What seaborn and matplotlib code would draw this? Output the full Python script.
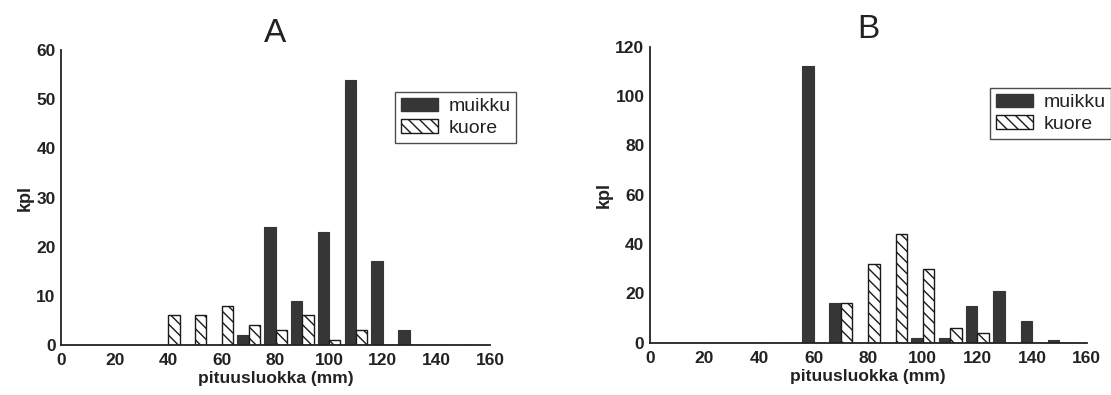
import numpy as np
import pandas as pd
import matplotlib
matplotlib.use("Agg")
import matplotlib.pyplot as plt
import seaborn as sns
from matplotlib.patches import Patch
from matplotlib.ticker import MultipleLocator

# Length classes (mm)
classes = [40, 50, 60, 70, 80, 90, 100, 110, 120, 130, 140, 150]

# Catch A (counts per length class)
muikku_a = [0, 0, 0, 2, 24, 9, 23, 54, 17, 3, 0, 0]
kuore_a = [6, 6, 8, 4, 3, 6, 1, 3, 0, 0, 0, 0]

# Catch B (counts per length class)
muikku_b = [0, 0, 112, 16, 0, 0, 2, 2, 15, 21, 9, 1]
kuore_b = [0, 0, 0, 16, 32, 44, 30, 6, 4, 0, 0, 0]

species = ["muikku", "kuore"]
panel_titles = ["A", "B"]
x_label = "pituusluokka (mm)"
y_label = "kpl"
y_limits = [60, 120]
y_major = [10, 20]
x_ticks = [0, 20, 40, 60, 80, 100, 120, 140, 160]

DARK = "#363636"
INK = "#222222"

sns.set_theme(style="white")
plt.rcParams["font.family"] = ["Liberation Sans", "DejaVu Sans"]
plt.rcParams["hatch.linewidth"] = 1.0


def long_table(muikku, kuore):
    return pd.DataFrame({
        "luokka": classes * 2,
        "kpl": list(muikku) + list(kuore),
        "laji": [species[0]] * len(classes) + [species[1]] * len(classes),
    })


fig = plt.figure(figsize=(11.11, 3.95), dpi=100)
ax_a = fig.add_axes([0.055, 0.127, 0.386, 0.746])
ax_b = fig.add_axes([0.585, 0.132, 0.393, 0.750])

tables = [long_table(muikku_a, kuore_a), long_table(muikku_b, kuore_b)]
legend_anchor = [(395 / 1111, 1 - 92 / 395), (990 / 1111, 1 - 88 / 395)]

for ax, df, title, ymax, ystep, anchor in zip(
        [ax_a, ax_b], tables, panel_titles, y_limits, y_major, legend_anchor):
    sns.barplot(data=df, x="luokka", y="kpl", hue="laji", hue_order=species,
                native_scale=True, width=0.84, dodge=True,
                palette={species[0]: DARK, species[1]: "white"},
                saturation=1, legend=False, ax=ax)
    # solid dark bars, hatched open bars
    for patch in ax.containers[0]:
        patch.set_facecolor(DARK)
        patch.set_edgecolor(DARK)
        patch.set_linewidth(0.8)
    for patch in ax.containers[1]:
        patch.set_facecolor("white")
        patch.set_edgecolor("#1a1a1a")
        patch.set_hatch("\\\\\\")
        patch.set_linewidth(1.0)

    ax.set_xlim(0, 160)
    ax.set_ylim(0, ymax)
    ax.set_xticks(x_ticks)
    ax.xaxis.set_minor_locator(MultipleLocator(10))
    ax.yaxis.set_major_locator(MultipleLocator(ystep))
    ax.yaxis.set_minor_locator(MultipleLocator(ystep / 2))
    ax.tick_params(axis="both", which="both", direction="in", colors=INK,
                   labelsize=12.5, width=1.0)
    ax.tick_params(axis="x", which="major", pad=6)
    ax.tick_params(axis="y", which="major", pad=4)
    ax.tick_params(which="major", length=4)
    ax.tick_params(which="minor", length=2)
    for lbl in ax.get_xticklabels() + ax.get_yticklabels():
        lbl.set_fontweight("bold")
        lbl.set_color(INK)
    for side in ["top", "right"]:
        ax.spines[side].set_visible(False)
    for side in ["left", "bottom"]:
        ax.spines[side].set_color(INK)
        ax.spines[side].set_linewidth(1.3)

    ax.set_xlabel(x_label, fontsize=12.5, fontweight="bold", color=INK,
                  labelpad=2)
    ax.set_ylabel(y_label, fontsize=13, fontweight="bold", color=INK,
                  labelpad=2)
    ax.set_title(title, fontsize=24, color=INK, pad=6)

    handles = [Patch(facecolor=DARK, edgecolor=DARK, label=species[0]),
               Patch(facecolor="white", edgecolor="#1a1a1a", hatch="\\\\\\",
                     label=species[1])]
    leg = fig.legend(handles=handles, loc="upper left", bbox_to_anchor=anchor,
                     fontsize=14, frameon=True, fancybox=False,
                     handlelength=1.9, handleheight=0.7, handletextpad=0.55,
                     borderpad=0.3, labelspacing=0.2, borderaxespad=0)
    leg.get_frame().set_edgecolor(INK)
    leg.get_frame().set_linewidth(1.0)
    for t in leg.get_texts():
        t.set_color(INK)

fig.savefig("out.png", dpi=100, facecolor="white")
